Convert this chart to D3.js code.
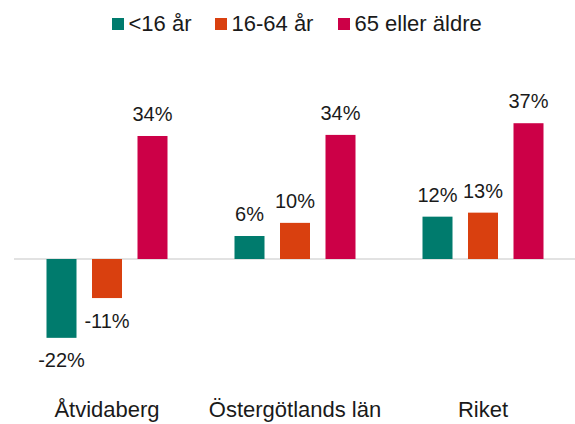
<!DOCTYPE html>
<html>
<head>
<meta charset="utf-8">
<script src="https://cdn.jsdelivr.net/npm/d3@7"></script>
<style>
  html, body { margin: 0; padding: 0; background: #fff; }
  svg text { font-family: "Liberation Sans", Arial, sans-serif; fill: #1a1a1a; }
</style>
</head>
<body>
<div id="chart"></div>
<script>
(function () {
    "use strict";

    // ---- data ----------------------------------------------------
    const categories = ["Åtvidaberg", "Östergötlands län", "Riket"];
    const series = ["<16 år", "16-64 år", "65 eller äldre"];
    const under16 = [-21.6, 6.3, 11.6];
    const age16to64 = [-10.7, 9.9, 12.7];
    const over65 = [33.7, 34.0, 37.2];
    const colors = ["#007B6D", "#D9400F", "#CC0047"];

    const values = [under16, age16to64, over65];

    const width = 575, height = 424;

    const svg = d3.select("#chart").append("svg")
        .attr("width", width)
        .attr("height", height);

    // ---- scales --------------------------------------------------
    const x0 = d3.scaleBand().domain(categories).range([13, 577]).padding(0);
    const x1 = d3.scaleBand().domain(series)
        .range([33.5, x0.bandwidth() - 33.5])
        .paddingInner(0.3407).paddingOuter(0);
    const y = d3.scaleLinear().domain([-25, 40]).range([259 + 25 * 3.65, 259 - 40 * 3.65]);

    // hyphen-minus like the source, not d3's U+2212
    const pct = v => d3.format(".0f")(v).replace("\u2212", "-") + "%";

    // ---- baseline ------------------------------------------------
    svg.append("line")
        .attr("x1", 14).attr("x2", width)
        .attr("y1", y(0)).attr("y2", y(0))
        .attr("stroke", "#d9d9d9")
        .attr("stroke-width", 1.5);

    // ---- bars ----------------------------------------------------
    const groups = svg.append("g").selectAll("g")
        .data(categories)
        .join("g")
        .attr("transform", d => `translate(${x0(d)},0)`);

    const cells = groups.selectAll("g")
        .data((c, ci) => series.map((s, si) => ({ s, si, v: values[si][ci] })))
        .join("g");

    cells.append("rect")
        .attr("x", d => x1(d.s))
        .attr("width", x1.bandwidth())
        .attr("y", d => y(Math.max(0, d.v)))
        .attr("height", d => Math.abs(y(d.v) - y(0)))
        .attr("fill", d => colors[d.si]);

    cells.append("text")
        .attr("x", d => x1(d.s) + x1.bandwidth() / 2)
        .attr("y", d => d.v >= 0 ? y(d.v) - 15 : y(d.v) + 29.5)
        .attr("text-anchor", "middle")
        .attr("font-size", 20)
        .text(d => pct(d.v));

    // ---- category labels -----------------------------------------
    svg.append("g").selectAll("text")
        .data(categories)
        .join("text")
        .attr("x", d => x0(d) + x0.bandwidth() / 2)
        .attr("y", 417)
        .attr("text-anchor", "middle")
        .attr("font-size", 22)
        .text(d => d);

    // ---- legend --------------------------------------------------
    const legendX = [112, 215, 338];
    const legend = svg.append("g").selectAll("g")
        .data(series)
        .join("g")
        .attr("transform", (d, i) => `translate(${legendX[i]},0)`);

    legend.append("rect")
        .attr("x", 0).attr("y", 18)
        .attr("width", 12).attr("height", 12)
        .attr("fill", (d, i) => colors[i]);

    legend.append("text")
        .attr("x", 16.5).attr("y", 31)
        .attr("font-size", 22)
        .text(d => d);
})();
</script>
</body>
</html>
